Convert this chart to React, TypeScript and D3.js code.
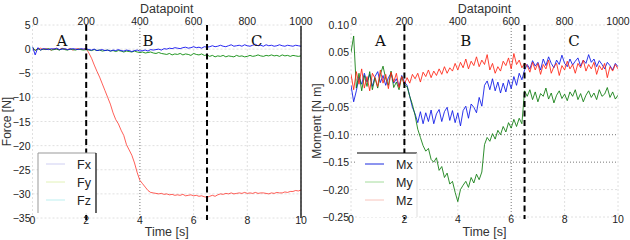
import React from "react";
import * as d3 from "d3";

// ---------- data ----------
const samples = d3.range(0, 1001, 10); // datapoint index (time = datapoint / 100 s)
const timeTicks = [0, 2, 4, 6, 8, 10];
const datapointTicks = [0, 200, 400, 600, 800, 1000];
const forceTicks = [5, 0, -5, -10, -15, -20, -25, -30, -35];
const momentTicks = [0.1, 0.05, 0.0, -0.05, -0.1, -0.15, -0.2, -0.25];
const phaseNames = ["A", "B", "C"];
const phaseCenters = [1.1, 4.3, 8.35];
const phaseBounds = [2, 6.5];

const Fx = [
  0.1, -0.2, 0.0, 0.2, -0.1, 0.1, 0.0, -0.2, 0.1, 0.0,
  -0.1, 0.2, 0.0, -0.1, 0.1, -0.2, 0.0, 0.1, -0.1, 0.0,
  0.1, -0.8, -1.9, -3.3, -4.6, -5.8, -7.2, -8.6, -10.0, -11.4,
  -13.2, -14.6, -15.5, -16.8, -17.9, -19.8, -20.9, -22.0, -23.6, -25.6,
  -27.2, -27.9, -28.6, -29.3, -29.7, -29.8, -29.9, -30.0, -29.9, -30.1,
  -30.0, -30.2, -30.1, -30.3, -30.2, -30.3, -30.1, -30.4, -30.3, -30.2,
  -30.4, -30.3, -30.5, -30.4, -30.6, -30.7, -30.5, -30.3, -30.5, -30.2,
  -30.0, -30.1, -29.9, -30.0, -29.8, -30.0, -29.9, -29.8, -29.9, -29.7,
  -29.9, -29.8, -29.9, -29.7, -29.9, -29.8, -29.8, -29.9, -30.0, -29.8,
  -29.9, -29.7, -29.8, -29.8, -29.6, -29.7, -29.5, -29.5, -29.3, -29.4,
  -29.2,
];
const Fy = [
  0.4, -0.3, 0.1, -0.2, 0.0, -0.1, 0.1, -0.2, -0.1, 0.0,
  -0.2, 0.1, -0.1, -0.2, 0.0, -0.1, -0.2, 0.0, -0.1, -0.2,
  -0.1, -0.2, -0.3, -0.1, -0.3, -0.2, -0.4, -0.3, -0.2, -0.4,
  -0.3, -0.5, -0.3, -0.4, -0.6, -0.4, -0.5, -0.6, -0.4, -0.6,
  -0.7, -0.6, -0.8, -0.7, -0.6, -0.8, -0.9, -0.7, -0.9, -1.0,
  -1.1, -0.9, -1.2, -1.0, -1.1, -0.9, -1.2, -1.0, -1.1, -1.3,
  -0.9, -1.1, -1.2, -1.0, -1.3, -1.2, -1.5, -1.3, -1.6, -1.4,
  -1.5, -1.3, -1.6, -1.4, -1.5, -1.6, -1.3, -1.5, -1.4, -1.6,
  -1.5, -1.3, -1.5, -1.4, -1.2, -1.4, -1.5, -1.3, -1.4, -1.2,
  -1.4, -1.3, -1.5, -1.2, -1.4, -1.3, -1.5, -1.3, -1.4, -1.5,
  -1.4,
];
const Fz = [
  0.5, -1.2, 0.3, -0.2, 0.1, 0.0, -0.1, 0.1, 0.0, 0.2,
  -0.1, 0.0, 0.1, -0.1, 0.0, 0.1, 0.0, -0.1, 0.1, 0.0,
  0.1, -0.1, -0.2, 0.0, -0.3, -0.2, -0.1, -0.3, -0.2, -0.4,
  -0.2, -0.3, -0.1, -0.3, -0.4, -0.2, -0.3, -0.5, -0.3, -0.2,
  -0.4, -0.3, -0.2, -0.4, -0.1, -0.2, -0.1, 0.0, -0.2, 0.1,
  0.0, 0.2, 0.1, 0.3, 0.2, 0.1, 0.3, 0.4, 0.2, 0.3,
  0.5, 0.3, 0.4, 0.2, 0.5, 0.4, 0.5, 0.7, 0.5, 0.6,
  0.8, 0.6, 0.5, 0.7, 0.9, 0.6, 0.7, 0.8, 0.6, 0.9,
  0.7, 0.6, 0.8, 1.0, 0.7, 0.8, 0.6, 0.9, 0.7, 0.8,
  0.6, 0.7, 0.9, 0.7, 0.6, 0.8, 0.7, 0.6, 0.8, 0.7,
  0.6,
];
const Mx = [
  -0.01, -0.04, -0.02, 0.005, -0.008, 0.012, -0.004, 0.01, -0.012, 0.006,
  0.015, -0.005, 0.008, -0.01, 0.004, 0.012, -0.006, 0.002, -0.012, 0.008,
  -0.004, -0.01, -0.03, -0.05, -0.062, -0.078, -0.058, -0.08, -0.06, -0.076,
  -0.055, -0.08, -0.062, -0.054, -0.076, -0.058, -0.05, -0.074, -0.056, -0.078,
  -0.06, -0.084, -0.056, -0.048, -0.07, -0.044, -0.05, -0.06, -0.032, -0.048,
  -0.01, -0.002, -0.018, 0.002, -0.02, -0.004, -0.024, -0.006, -0.022, 0.0,
  -0.016, 0.006, -0.01, 0.012, 0.0, 0.018, 0.028, 0.02, 0.035, 0.025,
  0.032, 0.018, 0.038, 0.026, 0.042, 0.03, 0.022, 0.036, 0.028, 0.045,
  0.03, 0.024, 0.038, 0.027, 0.034, 0.04, 0.025, 0.036, 0.03, 0.046,
  0.032, 0.038, 0.024, 0.035, 0.028, 0.02, 0.032, 0.026, 0.018, 0.03,
  0.024,
];
const My = [
  0.05, 0.08, -0.015, 0.012, -0.02, 0.008, -0.012, 0.015, -0.018, 0.004,
  -0.015, 0.01, 0.025, 0.002, -0.01, 0.016, -0.014, -0.004, -0.018, 0.006,
  -0.01, -0.012, -0.03, -0.045, -0.065, -0.09, -0.105, -0.12, -0.13, -0.125,
  -0.145, -0.15, -0.142, -0.165, -0.158, -0.178, -0.17, -0.19, -0.185, -0.205,
  -0.222, -0.2, -0.192, -0.185, -0.196, -0.178, -0.188, -0.172, -0.182, -0.168,
  -0.118, -0.105, -0.112, -0.098, -0.108, -0.092, -0.1, -0.085, -0.095, -0.078,
  -0.088, -0.072, -0.085, -0.07, -0.08, -0.02, -0.03, -0.018, -0.036, -0.022,
  -0.04, -0.025, -0.03, -0.015, -0.035, -0.024, -0.042, -0.028, -0.02, -0.034,
  -0.026, -0.038, -0.022, -0.03, -0.018, -0.036, -0.025, -0.04, -0.028, -0.02,
  -0.032, -0.024, -0.036, -0.018, -0.03, -0.026, -0.014, -0.032, -0.022, -0.035,
  -0.028,
];
const Mz = [
  0.01, -0.018, 0.015, -0.008, 0.02, -0.015, 0.006, -0.02, 0.012, 0.003,
  -0.012, 0.018, -0.006, 0.01, -0.016, 0.014, -0.004, 0.012, -0.014, 0.006,
  -0.008, 0.004, -0.006, 0.01, 0.002, 0.012, -0.004, 0.014, 0.006, 0.018,
  0.004, 0.016, 0.008, 0.02, 0.01, 0.024, 0.012, 0.022, 0.016, 0.03,
  0.018, 0.032, 0.022, 0.038, 0.02, 0.034, 0.026, 0.042, 0.024, 0.036,
  0.028, 0.046, 0.018, 0.03, 0.012, 0.024, 0.016, 0.034, 0.026, 0.04,
  0.02, 0.048, 0.028, 0.036, 0.022, 0.03, 0.026, 0.014, 0.032, 0.018,
  0.03, 0.01, 0.028, 0.02, 0.036, 0.012, 0.024, 0.03, 0.008, 0.026,
  0.018, 0.034, 0.02, 0.028, 0.012, 0.03, 0.022, 0.036, 0.016, 0.028,
  0.02, 0.032, 0.01, 0.026, 0.018, 0.03, 0.004, 0.024, 0.016, 0.028,
  0.02,
];

const forceNames = ["Fx", "Fy", "Fz"];
const momentNames = ["Mx", "My", "Mz"];

// ---------- styling ----------
const SANS = "'Liberation Sans', Arial, sans-serif";
const SERIF = "'DejaVu Serif', serif";
const TXT = "#222";
const LIGHT_GRID = "#d8d8d8";
const DARK_GRID = "#666";

const minus = (s: string) => s.replace("-", "\u2212");

type Series = { values: number[]; color: string; width: number };
type LegendCfg = {
  x: number; y: number; w: number; h: number;
  names: string[]; colors: string[];
  borders: { left?: string; top?: string; right?: string };
};

type PanelProps = {
  id: string;
  x0: number; x1: number; yTop: number; yBot: number;
  yDomain: [number, number];
  yTicks: number[];
  yFmt: (v: number) => string;
  yLabel: string; yLabelX: number;
  series: Series[];
  strongX: number[]; strongY: number[];
  legend: LegendCfg;
  rightSpine: boolean;
};

function Panel(p: PanelProps) {
  const x = d3.scaleLinear().domain([0, 10]).range([p.x0, p.x1]);
  const xTop = d3.scaleLinear().domain([0, 1000]).range([p.x0, p.x1]);
  const y = d3.scaleLinear().domain(p.yDomain).range([p.yBot, p.yTop]);
  const line = (vals: number[]) =>
    d3.line<number>().x((_, i) => xTop(samples[i])).y((d) => y(d))(vals) || "";
  const cx = (p.x0 + p.x1) / 2;
  const L = p.legend;
  return (
    <g>
      <defs>
        <clipPath id={p.id}>
          <rect x={p.x0} y={p.yTop} width={p.x1 - p.x0} height={p.yBot - p.yTop} />
        </clipPath>
      </defs>
      {/* grid */}
      {p.yTicks.map((t) => {
        const strong = p.strongY.some((s) => Math.abs(s - t) < 1e-9);
        return (
          <line key={"gy" + t} x1={p.x0} x2={p.x1} y1={y(t)} y2={y(t)}
            stroke={strong ? DARK_GRID : LIGHT_GRID} strokeWidth={strong ? 0.9 : 0.8}
            strokeDasharray={strong ? "1,2" : "2,2"} />
        );
      })}
      {timeTicks.map((t) => {
        const strong = p.strongX.includes(t);
        return (
          <line key={"gx" + t} x1={x(t)} x2={x(t)} y1={p.yTop} y2={p.yBot}
            stroke={strong ? DARK_GRID : LIGHT_GRID} strokeWidth={strong ? 0.9 : 0.8}
            strokeDasharray={strong ? "1,2" : "2,2"} />
        );
      })}
      {/* data */}
      <g clipPath={`url(#${p.id})`}>
        {p.series.map((s, i) => (
          <path key={i} d={line(s.values)} fill="none" stroke={s.color}
            strokeWidth={s.width} strokeLinejoin="round" />
        ))}
      </g>
      {/* phase boundaries */}
      {phaseBounds.map((b) => (
        <line key={"pb" + b} x1={x(b)} x2={x(b)} y1={p.yTop} y2={p.yBot + 2}
          stroke="#000" strokeWidth={2} strokeDasharray="6,3.5" />
      ))}
      {phaseNames.map((n, i) => (
        <text key={n} x={x(phaseCenters[i])} y={p.yTop + 21} textAnchor="middle"
          fontFamily={SERIF} fontSize={15} fill="#111">{n}</text>
      ))}
      {p.rightSpine && (
        <line x1={p.x1} x2={p.x1} y1={p.yTop + 1} y2={p.yBot} stroke="#000" strokeWidth={1.3} />
      )}
      {/* legend */}
      <g>
        <rect x={L.x} y={L.y} width={L.w} height={L.h} fill="#fff" />
        {L.borders.left && <line x1={L.x} x2={L.x} y1={L.y} y2={L.y + L.h} stroke={L.borders.left} strokeWidth={1} />}
        {L.borders.top && <line x1={L.x} x2={L.x + L.w} y1={L.y} y2={L.y} stroke={L.borders.top} strokeWidth={1.2} />}
        {L.borders.right && <line x1={L.x + L.w} x2={L.x + L.w} y1={L.y} y2={L.y + L.h} stroke={L.borders.right} strokeWidth={1.2} />}
        {L.names.map((n, i) => {
          const yy = L.y + 11 + i * 18;
          return (
            <g key={n}>
              <line x1={L.x + 8} x2={L.x + 27} y1={yy} y2={yy} stroke={L.colors[i]} strokeWidth={1} />
              <text x={L.x + 39} y={yy + 4.5} fontFamily={SANS} fontSize={12.5} fill={TXT}>{n}</text>
            </g>
          );
        })}
      </g>
      {/* y ticks */}
      {p.yTicks.map((t) => (
        <text key={"yt" + t} x={p.x0 - 2} y={y(t) + 4} textAnchor="end"
          fontFamily={SANS} fontSize={10.5} fill={TXT}>{p.yFmt(t)}</text>
      ))}
      {/* bottom ticks */}
      {timeTicks.map((t) => (
        <text key={"xt" + t} x={x(t)} y={p.yBot + 5.5} textAnchor="middle"
          fontFamily={SANS} fontSize={10.5} fill={TXT}>{t}</text>
      ))}
      {/* top ticks */}
      {datapointTicks.map((t) => (
        <text key={"dt" + t} x={xTop(t) + (t === 0 ? 3 : 0)} y={p.yTop} textAnchor="middle"
          fontFamily={SANS} fontSize={10.5} fill={TXT}>{t}</text>
      ))}
      <text x={cx} y={12.5} textAnchor="middle" fontFamily={SANS} fontSize={12.5} fill="#333">Datapoint</text>
      <text x={cx} y={236} textAnchor="middle" fontFamily={SANS} fontSize={12.5} fill="#333">Time [s]</text>
      <text transform={`translate(${p.yLabelX},${(p.yTop + p.yBot) / 2}) rotate(-90)`}
        textAnchor="middle" fontFamily={SANS} fontSize={12} fill="#333">{p.yLabel}</text>
    </g>
  );
}

export default function App() {
  return (
    <svg width={630} height={240} style={{ position: "absolute", left: 0, top: 0, background: "#fff" }}>
      <Panel
        id="clipF"
        x0={32.5} x1={301} yTop={25} yBot={218}
        yDomain={[-35, 5]}
        yTicks={forceTicks}
        yFmt={(v) => minus(String(v))}
        yLabel="Force [N]" yLabelX={11}
        series={[
          { values: Fx, color: "#ff1a10", width: 0.7 },
          { values: Fy, color: "#0a8a0a", width: 0.9 },
          { values: Fz, color: "#1010ee", width: 0.9 },
        ]}
        strongX={[4]} strongY={[]}
        legend={{
          x: 38, y: 153, w: 58, h: 60, names: forceNames,
          colors: ["#cfcff2", "#e2f2b8", "#bdeff0"],
          borders: { left: "#999", top: "#999", right: "#000" },
        }}
        rightSpine={true}
      />
      <Panel
        id="clipM"
        x0={351} x1={618} yTop={25} yBot={217}
        yDomain={[-0.25, 0.1]}
        yTicks={momentTicks}
        yFmt={(v) => minus(d3.format(".2f")(v))}
        yLabel="Moment [N m]" yLabelX={321}
        series={[
          { values: Mx, color: "#0a14e6", width: 0.85 },
          { values: My, color: "#0a7a0a", width: 0.85 },
          { values: Mz, color: "#ff2212", width: 0.85 },
        ]}
        strongX={[6]} strongY={[-0.1, -0.15]}
        legend={{
          x: 357, y: 153, w: 60, h: 64, names: momentNames,
          colors: ["#1a2adf", "#a4dc9c", "#f8c4bc"],
          borders: { top: "#000", right: "#e4e4e4" },
        }}
        rightSpine={false}
      />
    </svg>
  );
}
